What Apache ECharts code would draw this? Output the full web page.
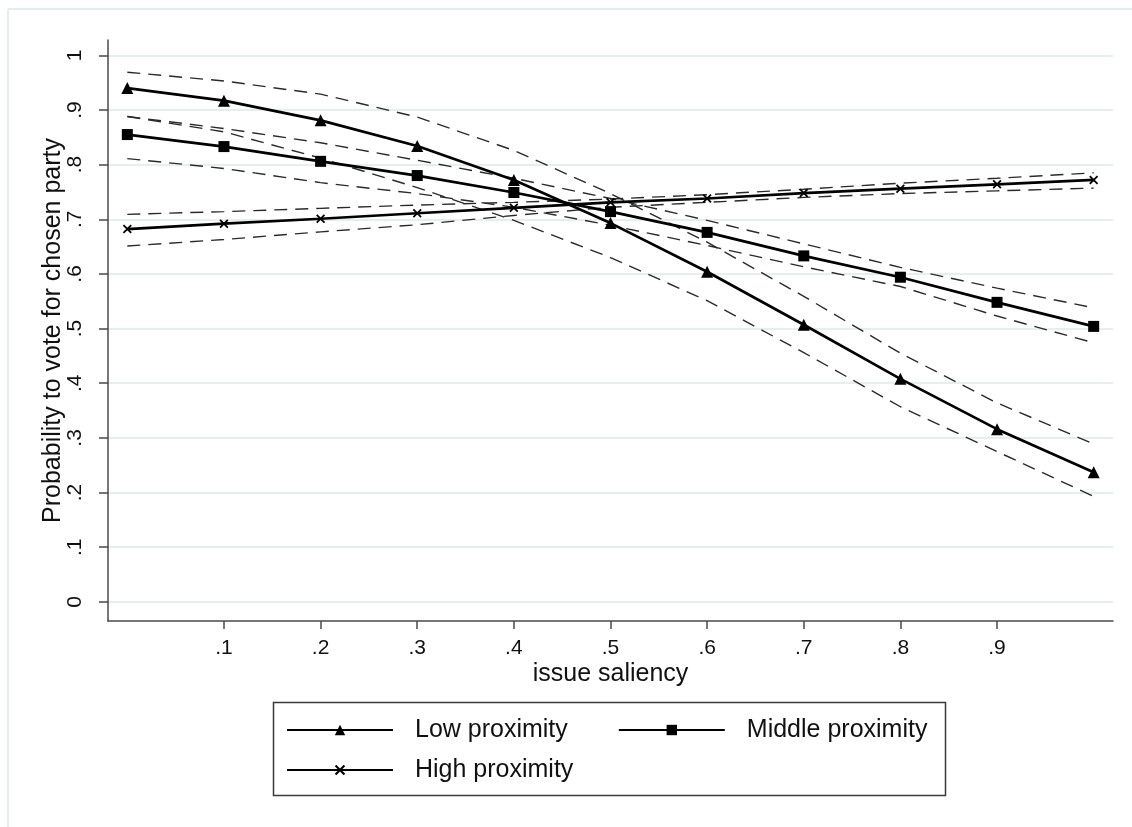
<!DOCTYPE html>
<html>
<head>
<meta charset="utf-8">
<script src="https://cdn.jsdelivr.net/npm/echarts@6/dist/echarts.min.js"></script>
<style>
  html, body { margin: 0; padding: 0; background: #ffffff; }
  #chart { width: 1132px; height: 827px; }
</style>
</head>
<body>
<div id="chart"></div>
<script>
// Predicted probability by issue saliency, with 95% confidence bounds
const saliency = [0, 0.1, 0.2, 0.3, 0.4, 0.5, 0.6, 0.7, 0.8, 0.9, 1];

const lowMean  = [0.940, 0.917, 0.881, 0.834, 0.772, 0.693, 0.604, 0.507, 0.408, 0.316, 0.237];
const lowUpper = [0.969, 0.953, 0.929, 0.887, 0.826, 0.747, 0.658, 0.559, 0.455, 0.364, 0.289];
const lowLower = [0.888, 0.860, 0.812, 0.758, 0.698, 0.630, 0.551, 0.456, 0.357, 0.275, 0.193];

const midMean  = [0.855, 0.833, 0.806, 0.780, 0.749, 0.714, 0.676, 0.633, 0.594, 0.548, 0.504];
const midUpper = [0.888, 0.866, 0.840, 0.808, 0.775, 0.738, 0.698, 0.655, 0.612, 0.574, 0.538];
const midLower = [0.811, 0.793, 0.767, 0.747, 0.722, 0.689, 0.652, 0.613, 0.577, 0.523, 0.474];

const highMean  = [0.682, 0.692, 0.701, 0.711, 0.721, 0.731, 0.738, 0.748, 0.756, 0.764, 0.772];
const highUpper = [0.709, 0.714, 0.720, 0.726, 0.731, 0.737, 0.745, 0.755, 0.766, 0.775, 0.785];
const highLower = [0.651, 0.663, 0.677, 0.690, 0.707, 0.722, 0.731, 0.740, 0.747, 0.752, 0.757];

const yTicks = [0, 0.1, 0.2, 0.3, 0.4, 0.5, 0.6, 0.7, 0.8, 0.9, 1];
const xTicks = [0.1, 0.2, 0.3, 0.4, 0.5, 0.6, 0.7, 0.8, 0.9];

const FONT = 'Liberation Sans, Arial, sans-serif';
const AXIS_COLOR = '#4a4a4a';

// Stata-style tick text: ".3" instead of "0.3"
function stataLabel(v) {
  const r = Math.round(v * 10) / 10;
  if (r === 0) return '0';
  if (r === 1) return '1';
  return r.toFixed(1).replace(/^0/, '');
}

function pairs(ys) {
  return saliency.map((x, i) => [x, ys[i]]);
}

const crossSymbol = 'path://M0,1.4L1.4,0L5,3.6L8.6,0L10,1.4L6.4,5L10,8.6L8.6,10L5,6.4L1.4,10L0,8.6L3.6,5Z';

function mainSeries(name, ys, symbol, size) {
  return {
    name: name,
    type: 'line',
    data: pairs(ys),
    symbol: symbol,
    symbolSize: size,
    showSymbol: true,
    itemStyle: { color: '#000000' },
    lineStyle: { color: '#000000', width: 2.7 },
    z: 5,
    animation: false
  };
}

function boundSeries(ys) {
  return {
    type: 'line',
    data: pairs(ys),
    symbol: 'none',
    silent: true,
    lineStyle: { color: '#2a2a2a', width: 1.4, type: [13, 8] },
    z: 3,
    animation: false
  };
}

const legendText = {
  fontFamily: FONT, fontSize: 25, color: '#111111', lineHeight: 28, padding: [0, 0, 0, 17]
};

const tickText = {
  fontFamily: FONT, fontSize: 21, color: '#111111'
};

const chart = echarts.init(document.getElementById('chart'), null, { renderer: 'canvas' });

chart.setOption({
  backgroundColor: '#ffffff',
  animation: false,
  textStyle: { fontFamily: FONT },
  grid: { left: 108, top: 40, width: 1005, height: 581, containLabel: false },
  xAxis: {
    type: 'value',
    min: -0.02,
    max: 1.02,
    name: 'issue saliency',
    nameLocation: 'middle',
    nameGap: 41,
    nameMoveOverlap: false,
    nameTextStyle: { fontFamily: FONT, fontSize: 25, color: '#111111' },
    axisLine: { show: true, onZero: false, lineStyle: { color: AXIS_COLOR, width: 1.5 } },
    axisTick: { show: true, length: 8, customValues: xTicks, lineStyle: { color: AXIS_COLOR, width: 1.5 } },
    axisLabel: Object.assign({
      customValues: xTicks,
      formatter: stataLabel,
      margin: 17
    }, tickText),
    splitLine: { show: false }
  },
  yAxis: {
    type: 'value',
    min: -0.035,
    max: 1.028,
    name: 'Probability to vote for chosen party',
    nameLocation: 'middle',
    nameRotate: 90,
    nameGap: 42,
    nameMoveOverlap: false,
    nameTextStyle: { fontFamily: FONT, fontSize: 25, color: '#111111' },
    axisLine: { show: true, onZero: false, lineStyle: { color: AXIS_COLOR, width: 1.5 } },
    axisTick: { show: true, length: 9, customValues: yTicks, lineStyle: { color: AXIS_COLOR, width: 1.5 } },
    axisLabel: Object.assign({
      customValues: yTicks,
      formatter: stataLabel,
      rotate: 90,
      margin: 22
    }, tickText),
    splitLine: { show: true, lineStyle: { color: '#e6eef0', width: 2 } }
  },
  legend: [
    {
      data: ['Low proximity', 'Middle proximity'],
      left: 281, top: 711,
      orient: 'horizontal',
      itemWidth: 106, itemHeight: 13, itemGap: 50,
      textStyle: legendText,
      selectedMode: false
    },
    {
      data: ['High proximity'],
      left: 281, top: 751,
      orient: 'horizontal',
      itemWidth: 106, itemHeight: 13,
      textStyle: legendText,
      selectedMode: false
    }
  ],
  graphic: [
    { type: 'line', shape: { x1: 8, y1: 9, x2: 1132, y2: 9 }, style: { stroke: '#e4ecef', lineWidth: 2 }, silent: true },
    { type: 'line', shape: { x1: 8, y1: 9, x2: 8, y2: 827 }, style: { stroke: '#e4ecef', lineWidth: 2 }, silent: true },
    { type: 'rect', shape: { x: 273.5, y: 702.5, width: 672, height: 93 }, style: { fill: 'none', stroke: '#3a3a3a', lineWidth: 1.5 }, silent: true }
  ],
  series: [
    boundSeries(lowUpper),
    boundSeries(lowLower),
    boundSeries(midUpper),
    boundSeries(midLower),
    boundSeries(highUpper),
    boundSeries(highLower),
    mainSeries('Low proximity', lowMean, 'triangle', 12),
    mainSeries('Middle proximity', midMean, 'rect', 11),
    mainSeries('High proximity', highMean, crossSymbol, 9)
  ]
});
</script>
</body>
</html>
